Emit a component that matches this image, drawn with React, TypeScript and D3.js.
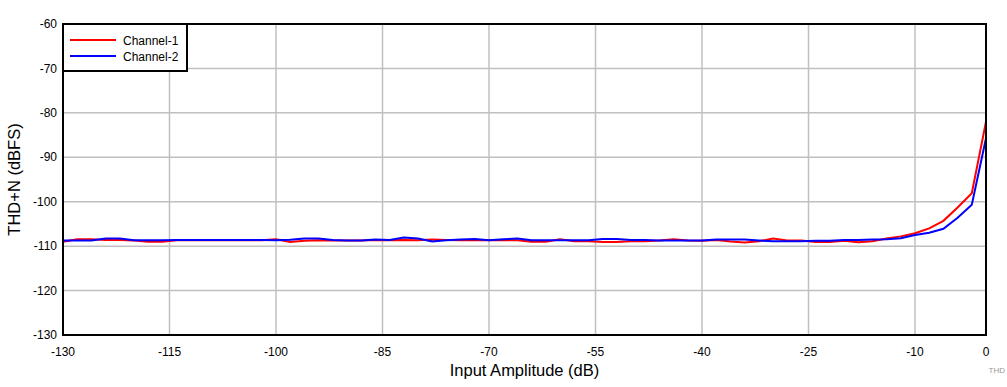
import React from "react";
import * as d3 from "d3";

const xValues = [-130,-128,-126,-124,-122,-120,-118,-116,-114,-112,-110,-108,-106,-104,-102,-100,-98,-96,-94,-92,-90,-88,-86,-84,-82,-80,-78,-76,-74,-72,-70,-68,-66,-64,-62,-60,-58,-56,-54,-52,-50,-48,-46,-44,-42,-40,-38,-36,-34,-32,-30,-28,-26,-24,-22,-20,-18,-16,-14,-12,-10,-8,-6,-4,-2,0];

const channel1 = [-109.0,-108.45,-108.45,-108.6,-108.6,-108.75,-109.0,-109.0,-108.7,-108.7,-108.7,-108.7,-108.7,-108.7,-108.7,-108.45,-109.05,-108.8,-108.65,-108.75,-108.75,-108.75,-108.6,-108.65,-108.6,-108.65,-108.5,-108.6,-108.65,-108.65,-108.65,-108.7,-108.65,-109.0,-109.0,-108.45,-108.9,-108.9,-109.05,-109.05,-108.9,-108.9,-108.75,-108.45,-108.75,-108.8,-108.6,-108.95,-109.2,-108.9,-108.3,-108.75,-108.75,-109.05,-109.05,-108.8,-109.1,-108.9,-108.3,-107.8,-107.1,-106.0,-104.3,-101.3,-98.1,-82.0];

const channel2 = [-108.75,-108.75,-108.75,-108.3,-108.3,-108.7,-108.7,-108.7,-108.6,-108.6,-108.6,-108.6,-108.6,-108.6,-108.6,-108.7,-108.55,-108.3,-108.3,-108.6,-108.75,-108.75,-108.5,-108.6,-108.05,-108.3,-108.95,-108.7,-108.5,-108.4,-108.7,-108.45,-108.3,-108.65,-108.65,-108.65,-108.65,-108.65,-108.4,-108.4,-108.6,-108.6,-108.75,-108.75,-108.75,-108.75,-108.53,-108.53,-108.53,-108.75,-108.9,-108.9,-108.9,-108.8,-108.8,-108.6,-108.6,-108.53,-108.45,-108.2,-107.5,-107.0,-106.1,-103.6,-100.7,-85.7];

const xTicks = [-130,-115,-100,-85,-70,-55,-40,-25,-10,0];
const yTicks = [-60,-70,-80,-90,-100,-110,-120,-130];
const seriesNames = ["Channel-1", "Channel-2"];
const seriesColors = ["#ff0000", "#0000ff"];

const W = 1007, H = 387;
const L = 63, R = 986, T = 24, B = 335;
const FONT = "'Liberation Sans', Arial, sans-serif";

export default function App() {
  const x = d3.scaleLinear().domain([-130, 0]).range([L, R]);
  const y = d3.scaleLinear().domain([-130, -60]).range([B, T]);
  const line = d3.line<[number, number]>().x(d => x(d[0])).y(d => y(d[1]));
  const series = [channel1, channel2].map(vals => xValues.map((xv, i) => [xv, vals[i]] as [number, number]));

  return (
    <svg width={W} height={H} style={{ position: "absolute", left: 0, top: 0, background: "#fff" }}>
      <rect x={0} y={0} width={W} height={H} fill="#fff" />
      {xTicks.map(t => (
        <line key={"gx" + t} x1={x(t)} x2={x(t)} y1={T} y2={B} stroke="#c0c0c0" strokeWidth={1.5} />
      ))}
      {yTicks.map(t => (
        <line key={"gy" + t} x1={L} x2={R} y1={y(t)} y2={y(t)} stroke="#c0c0c0" strokeWidth={1.5} />
      ))}
      {series.map((s, i) => (
        <path key={"s" + i} d={line(s) || ""} fill="none" stroke={seriesColors[i]} strokeWidth={2} />
      ))}
      <rect x={L} y={T} width={R - L} height={B - T} fill="none" stroke="#000" strokeWidth={2} />
      {yTicks.map(t => (
        <text key={"ty" + t} x={L - 6} y={y(t)} dy="0.35em" textAnchor="end" fontFamily={FONT} fontSize={12} fill="#000">{t}</text>
      ))}
      {xTicks.map(t => (
        <text key={"tx" + t} x={x(t)} y={B + 21} textAnchor="middle" fontFamily={FONT} fontSize={12} fill="#000">{t}</text>
      ))}
      <text x={(L + R) / 2} y={376} textAnchor="middle" fontFamily={FONT} fontSize={16.5} fill="#000">Input Amplitude (dB)</text>
      <text transform={`translate(20,${(T + B) / 2}) rotate(-90)`} textAnchor="middle" fontFamily={FONT} fontSize={16.5} fill="#000">THD+N (dBFS)</text>
      <text x={1005} y={373} textAnchor="end" fontFamily={FONT} fontSize={8} fill="#999">THD</text>
      <g>
        <rect x={L} y={T} width={124} height={47} fill="#fff" stroke="#000" strokeWidth={2} />
        {seriesNames.map((n, i) => (
          <g key={n}>
            <line x1={70} x2={116} y1={40 + i * 16} y2={40 + i * 16} stroke={seriesColors[i]} strokeWidth={2} />
            <text x={123} y={45 + i * 16} fontFamily={FONT} fontSize={12} fill="#000">{n}</text>
          </g>
        ))}
      </g>
    </svg>
  );
}
